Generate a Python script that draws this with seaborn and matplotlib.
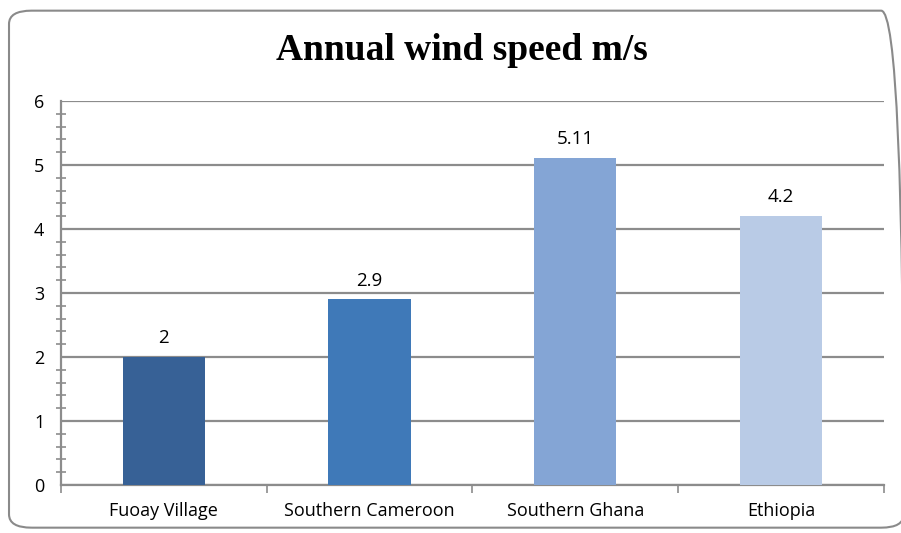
import numpy as np
import pandas as pd
import seaborn as sns
import matplotlib.pyplot as plt
from matplotlib.patches import FancyBboxPatch
from matplotlib.ticker import MultipleLocator, FixedLocator

# data
sites = ["Fuoay Village", "Southern Cameroon", "Southern Ghana", "Ethiopia"]
wind_speed = [2, 2.9, 5.11, 4.2]
value_labels = ["2", "2.9", "5.11", "4.2"]
bar_colors = ["#376196", "#3f79b8", "#84a5d5", "#b9cbe6"]

df = pd.DataFrame({"site": sites, "speed": wind_speed})

sns.set_style("white")
plt.rcParams["font.family"] = ["Open Sans", "DejaVu Sans"]
plt.rcParams["text.color"] = "black"

fig = plt.figure(figsize=(9.01, 5.33), dpi=100)
ax = fig.add_axes([0.0677, 0.0901, 0.9133, 0.7204])

grid_col = "#8c8c8c"

sns.barplot(data=df, x="site", y="speed", hue="site", palette=bar_colors,
            width=0.4, saturation=1, legend=False, linewidth=0, ax=ax, zorder=3)

for i, (v, lab) in enumerate(zip(wind_speed, value_labels)):
    ax.annotate(lab, (i, v), xytext=(0, 7), textcoords="offset points",
                ha="center", va="bottom", fontsize=13.5, color="black")

ax.set_xlim(-0.5, 3.5)
ax.set_ylim(0, 6)
ax.yaxis.set_major_locator(MultipleLocator(1))
ax.yaxis.set_minor_locator(MultipleLocator(0.2))
ax.xaxis.set_minor_locator(FixedLocator(np.arange(-0.5, 4, 1)))
ax.grid(axis="y", which="major", color=grid_col, linewidth=1.6, zorder=0)
ax.set_axisbelow(True)

for side in ["top", "right"]:
    ax.spines[side].set_visible(False)
for side in ["left", "bottom"]:
    ax.spines[side].set_color(grid_col)
    ax.spines[side].set_linewidth(1.6)

ax.tick_params(axis="y", which="major", direction="out", length=6, width=1.2,
               color=grid_col, labelsize=13, labelcolor="black", pad=6)
ax.tick_params(axis="y", which="minor", direction="inout", length=7, width=1.2,
               color=grid_col, left=True)
ax.tick_params(axis="x", which="major", direction="inout", length=7, width=1.2,
               color=grid_col, labelsize=13, labelcolor="black", pad=9)
ax.tick_params(axis="x", which="minor", direction="out", length=6, width=1.2,
               color=grid_col, bottom=True)
ax.set_xlabel("")
ax.set_ylabel("")

fig.text(0.513, 0.905, "Annual wind speed m/s", ha="center", va="center",
         fontsize=27, fontweight="bold", family="Liberation Serif", color="black")

frame = FancyBboxPatch((0.010, 0.010), 0.993, 0.970,
                       boxstyle="round,pad=0,rounding_size=0.025",
                       transform=fig.transFigure, fill=False,
                       edgecolor="#8a8a8a", linewidth=1.5, clip_on=False)
fig.patches.append(frame)

fig.savefig("out.png", dpi=100)
